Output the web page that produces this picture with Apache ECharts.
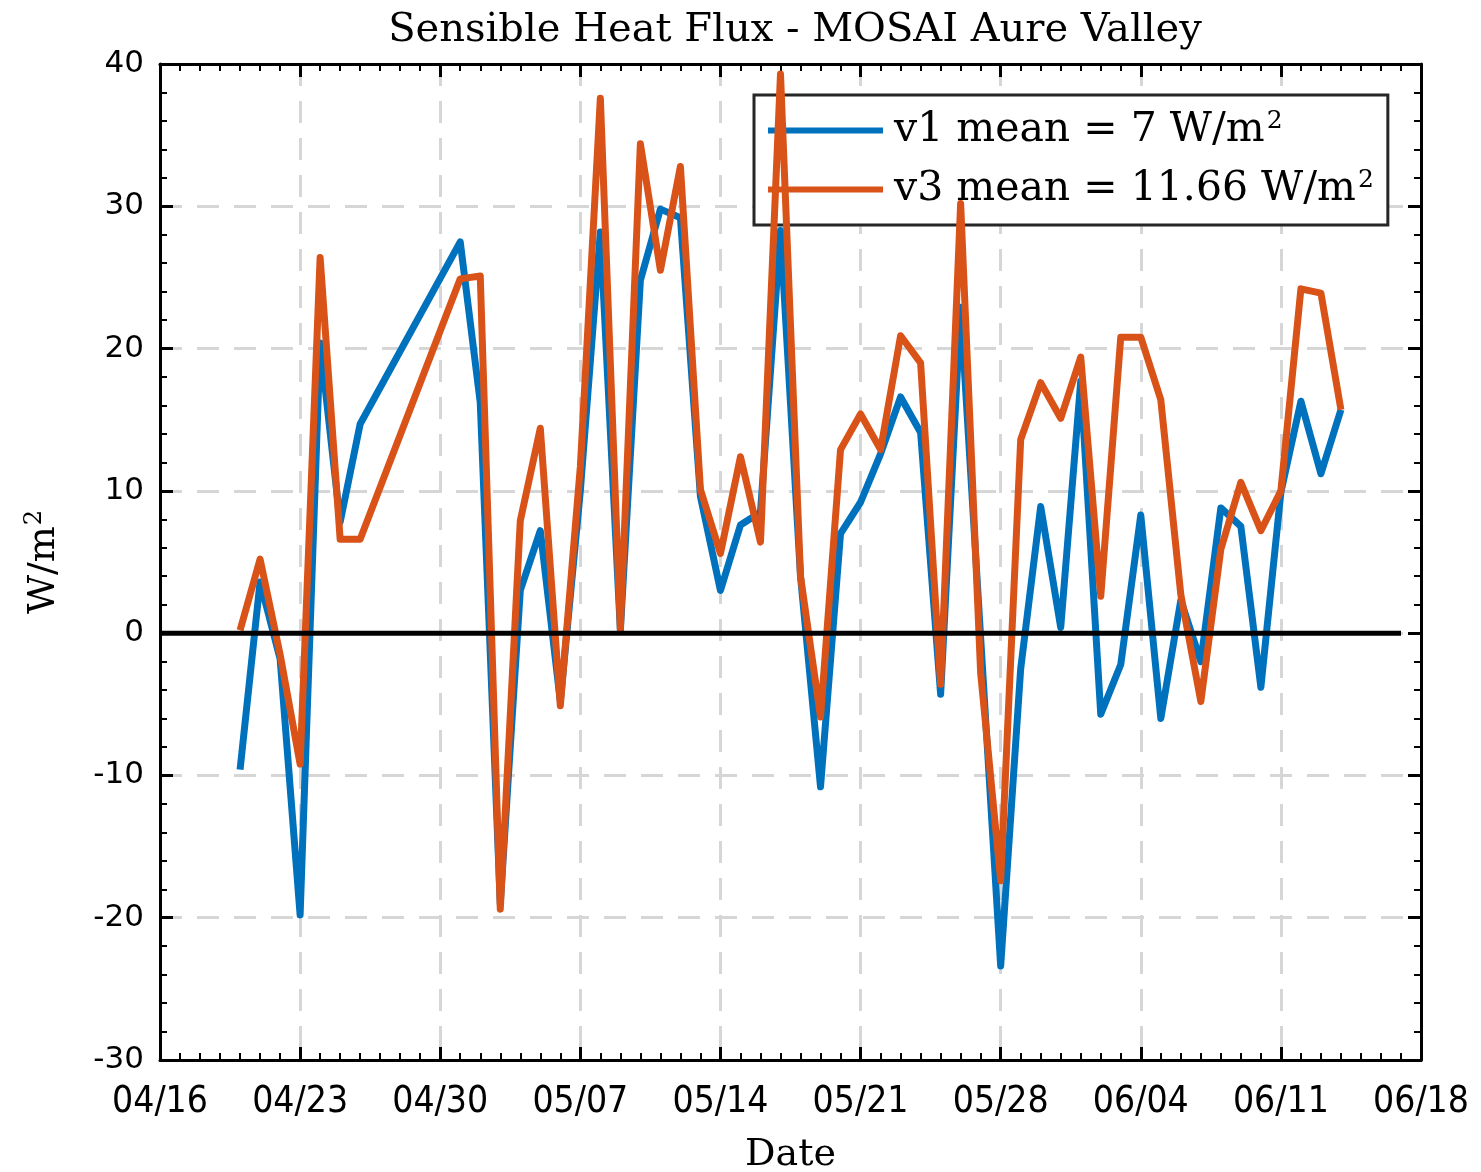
<!DOCTYPE html>
<html>
<head>
<meta charset="utf-8">
<script src="https://cdn.jsdelivr.net/npm/echarts@6/dist/echarts.min.js"></script>
<style>
  html, body { margin: 0; padding: 0; background: #fff; }
  #chart { width: 1481px; height: 1172px; }
</style>
</head>
<body>
<div id="chart"></div>
<script>
// daily dates (04/27 - 04/30 missing in the record)
const dates = [
  '04/20', '04/21', '04/22', '04/23', '04/24', '04/25', '04/26',
  '05/01', '05/02', '05/03', '05/04', '05/05', '05/06', '05/07', '05/08', '05/09', '05/10',
  '05/11', '05/12', '05/13', '05/14', '05/15', '05/16', '05/17', '05/18', '05/19', '05/20',
  '05/21', '05/22', '05/23', '05/24', '05/25', '05/26', '05/27', '05/28', '05/29', '05/30', '05/31',
  '06/01', '06/02', '06/03', '06/04', '06/05', '06/06', '06/07', '06/08', '06/09', '06/10',
  '06/11', '06/12', '06/13', '06/14'
]

const v1 = [
  -9.6, 3.6, -1.8, -19.8, 20.4, 7.8, 14.7,
  27.5, 16.2, -19.0, 3.0, 7.2, -4.8, 10.0, 28.2, 0.2, 24.8,
  29.8, 29.2, 9.6, 3.0, 7.6, 8.5, 28.3, 4.0, -10.8, 7.0,
  9.2, 12.6, 16.6, 14.1, -4.3, 22.9, -0.3, -23.4, -2.5, 8.9, 0.4,
  17.7, -5.7, -2.2, 8.3, -6.0, 2.3, -2.0, 8.8, 7.5, -3.8,
  9.9, 16.3, 11.2, 15.7
]

const v3 = [
  0.2, 5.2, -1.5, -9.2, 26.4, 6.6, 6.6,
  24.9, 25.1, -19.4, 7.9, 14.4, -5.1, 11.7, 37.6, 0.3, 34.4,
  25.5, 32.8, 10.1, 5.6, 12.4, 6.4, 39.3, 4.0, -5.9, 12.9,
  15.4, 12.9, 20.9, 19.0, -3.6, 30.2, -2.8, -17.4, 13.6, 17.6, 15.1,
  19.4, 2.6, 20.8, 20.8, 16.4, 2.7, -4.8, 5.9, 10.6, 7.2,
  10.0, 24.2, 23.9, 15.7
]

const seriesNames = ['v1', 'v3']
const legendLabels = ['v1 mean = 7 W/m', 'v3 mean = 11.66 W/m']
const zeroLineDates = ['04/16', '06/17']
const axisStart = '04/16'
const axisEnd = '06/18'
const yTicks = [-30, -20, -10, 0, 10, 20, 30, 40]

const YEAR = 2023
function dayOf(s) {
  const [m, d] = s.split('/').map(Number)
  return (Date.UTC(YEAR, m - 1, d) - Date.UTC(YEAR, 3, 16)) / 86400000
}
function labelOf(v) {
  const t = new Date(Date.UTC(YEAR, 3, 16) + v * 86400000)
  const mm = String(t.getUTCMonth() + 1).padStart(2, '0')
  const dd = String(t.getUTCDate()).padStart(2, '0')
  return mm + '/' + dd
}

const xMin = dayOf(axisStart)
const xMax = dayOf(axisEnd)
const serif = '"DejaVu Serif", "Liberation Serif", serif'

const chart = echarts.init(document.getElementById('chart'))

const frameX = {
  type: 'value',
  min: xMin,
  max: xMax,
  interval: 7,
  axisLine: { show: true, onZero: false, lineStyle: { color: '#000', width: 3 } },
  axisTick: { show: true, inside: true, length: 13, lineStyle: { color: '#000', width: 3 } },
  minorTick: { show: true, splitNumber: 7, length: 7, lineStyle: { color: '#000', width: 2 } }
}
const frameY = {
  type: 'value',
  min: yTicks[0],
  max: yTicks[yTicks.length - 1],
  interval: 10,
  axisLine: { show: true, onZero: false, lineStyle: { color: '#000', width: 3 } },
  axisTick: { show: true, inside: true, length: 13, lineStyle: { color: '#000', width: 3 } },
  minorTick: { show: true, splitNumber: 5, length: 7, lineStyle: { color: '#000', width: 2 } }
}
const gridLine = {
  show: true,
  lineStyle: { color: '#d6d6d6', width: 3, type: [22, 15] }
}

const option = {
  animation: false,
  backgroundColor: '#fff',
  title: {
    text: 'Sensible Heat Flux - MOSAI Aure Valley',
    left: 790,
    textAlign: 'center',
    top: 6,
    textStyle: { fontFamily: serif, fontSize: 40, fontWeight: 'normal', color: '#000' }
  },
  grid: { left: 160, right: 60, top: 64, bottom: 112, outerBoundsMode: 'none', containLabel: false },
  legend: {
    data: seriesNames,
    orient: 'vertical',
    left: 754,
    top: 95,
    padding: [14, 14, 14, 14],
    itemGap: 16,
    itemWidth: 115,
    itemHeight: 6,
    icon: 'rect',
    backgroundColor: '#fff',
    borderColor: '#262626',
    borderWidth: 3,
    formatter: function (name) {
      return '{t|' + legendLabels[seriesNames.indexOf(name)] + '}{s|2}'
    },
    textStyle: {
      rich: {
        t: { fontFamily: serif, fontSize: 41, color: '#000', lineHeight: 40, padding: [0, 0, 0, 6] },
        s: { fontFamily: serif, fontSize: 25, color: '#000', lineHeight: 40, padding: [0, 0, 18, 2] }
      }
    }
  },
  xAxis: [
    Object.assign({}, frameX, {
      position: 'bottom',
      name: 'Date',
      nameLocation: 'middle',
      nameGap: 76,
      nameTextStyle: { fontFamily: serif, fontSize: 38, color: '#000' },
      axisLabel: {
        margin: 24,
        color: '#000',
        fontSize: 37,
        fontFamily: '"DejaVu Sans Condensed", "Liberation Sans Narrow", "Liberation Sans", sans-serif',
        formatter: labelOf
      },
      splitLine: gridLine
    }),
    Object.assign({}, frameX, {
      position: 'top',
      axisLabel: { show: false },
      splitLine: { show: false }
    })
  ],
  yAxis: [
    Object.assign({}, frameY, {
      position: 'left',
      name: '{n|W/m}{s|2}',
      nameLocation: 'middle',
      nameRotate: 90,
      nameGap: 96,
      nameTextStyle: {
        rich: {
          n: { fontFamily: serif, fontSize: 38, color: '#000', lineHeight: 40 },
          s: { fontFamily: serif, fontSize: 24, color: '#000', lineHeight: 40, padding: [0, 0, 18, 1] }
        }
      },
      axisLabel: {
        margin: 16,
        color: '#000',
        fontSize: 31,
        fontFamily: '"DejaVu Sans", sans-serif'
      },
      splitLine: gridLine
    }),
    Object.assign({}, frameY, {
      position: 'right',
      axisLabel: { show: false },
      splitLine: { show: false }
    })
  ],
  series: [
    {
      name: seriesNames[0],
      type: 'line',
      showSymbol: false,
      symbol: 'none',
      color: '#0072BD',
      lineStyle: { width: 7, color: '#0072BD', cap: 'butt', join: 'round' },
      data: dates.map((d, i) => [dayOf(d), v1[i]]),
      z: 3
    },
    {
      name: seriesNames[1],
      type: 'line',
      showSymbol: false,
      symbol: 'none',
      color: '#D95319',
      lineStyle: { width: 7, color: '#D95319', cap: 'butt', join: 'round' },
      data: dates.map((d, i) => [dayOf(d), v3[i]]),
      z: 4
    },
    {
      name: 'zero',
      type: 'line',
      silent: true,
      showSymbol: false,
      symbol: 'none',
      lineStyle: { width: 5, color: '#000' },
      data: zeroLineDates.map(d => [dayOf(d), 0]),
      z: 5
    }
  ]
}

chart.setOption(option)
</script>
</body>
</html>
